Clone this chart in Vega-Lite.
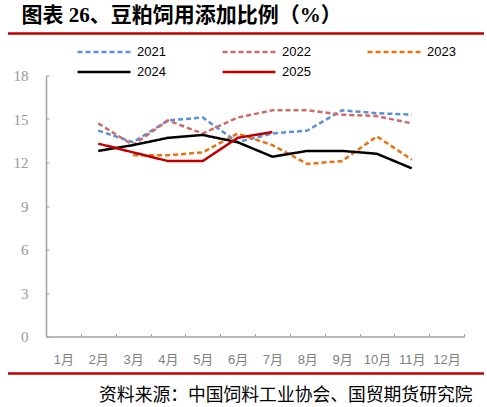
{
  "$schema": "https://vega.github.io/schema/vega-lite/v6.json",
  "width": 476,
  "height": 340,
  "padding": {"left": 6, "top": 4.5, "right": 5, "bottom": 0},
  "background": "white",
  "config": {
    "view": {"stroke": null},
    "font": "Liberation Sans, Noto Sans CJK SC"
  },
  "layer": [
    {
      "data": {
        "values": [
          {"month": "2月", "year": "2021", "value": 14.2},
          {"month": "3月", "year": "2021", "value": 13.4},
          {"month": "4月", "year": "2021", "value": 14.9},
          {"month": "5月", "year": "2021", "value": 15.1},
          {"month": "6月", "year": "2021", "value": 13.4},
          {"month": "7月", "year": "2021", "value": 14.0},
          {"month": "8月", "year": "2021", "value": 14.2},
          {"month": "9月", "year": "2021", "value": 15.6},
          {"month": "10月", "year": "2021", "value": 15.4},
          {"month": "11月", "year": "2021", "value": 15.3},
          {"month": "2月", "year": "2022", "value": 14.7},
          {"month": "3月", "year": "2022", "value": 13.2},
          {"month": "4月", "year": "2022", "value": 14.9},
          {"month": "5月", "year": "2022", "value": 14.0},
          {"month": "6月", "year": "2022", "value": 15.1},
          {"month": "7月", "year": "2022", "value": 15.6},
          {"month": "8月", "year": "2022", "value": 15.6},
          {"month": "9月", "year": "2022", "value": 15.3},
          {"month": "10月", "year": "2022", "value": 15.2},
          {"month": "11月", "year": "2022", "value": 14.7},
          {"month": "3月", "year": "2023", "value": 12.5},
          {"month": "4月", "year": "2023", "value": 12.5},
          {"month": "5月", "year": "2023", "value": 12.7},
          {"month": "6月", "year": "2023", "value": 14.0},
          {"month": "7月", "year": "2023", "value": 13.2},
          {"month": "8月", "year": "2023", "value": 11.9},
          {"month": "9月", "year": "2023", "value": 12.1},
          {"month": "10月", "year": "2023", "value": 13.8},
          {"month": "11月", "year": "2023", "value": 12.2},
          {"month": "2月", "year": "2024", "value": 12.8},
          {"month": "3月", "year": "2024", "value": 13.2},
          {"month": "4月", "year": "2024", "value": 13.7},
          {"month": "5月", "year": "2024", "value": 13.9},
          {"month": "6月", "year": "2024", "value": 13.4},
          {"month": "7月", "year": "2024", "value": 12.4},
          {"month": "8月", "year": "2024", "value": 12.8},
          {"month": "9月", "year": "2024", "value": 12.8},
          {"month": "10月", "year": "2024", "value": 12.6},
          {"month": "11月", "year": "2024", "value": 11.6},
          {"month": "2月", "year": "2025", "value": 13.3},
          {"month": "3月", "year": "2025", "value": 12.7},
          {"month": "4月", "year": "2025", "value": 12.1},
          {"month": "5月", "year": "2025", "value": 12.1},
          {"month": "6月", "year": "2025", "value": 13.7},
          {"month": "7月", "year": "2025", "value": 14.1}
        ]
      },
      "mark": {"type": "line", "strokeWidth": 2.5},
      "encoding": {
        "x": {
          "field": "month",
          "type": "ordinal",
          "bandPosition": 0.5,
          "scale": {
            "type": "band",
            "domain": ["1月", "2月", "3月", "4月", "5月", "6月", "7月", "8月", "9月", "10月", "11月", "12月"],
            "range": [38, 456],
            "paddingInner": 0,
            "paddingOuter": 0
          },
          "axis": {
            "offset": -37,
            "labelAngle": 0,
            "tickBand": "extent",
            "tickSize": -3,
            "tickColor": "#a0a0a0",
            "domainColor": "#a0a0a0",
            "domainWidth": 1.5,
            "labelColor": "#808080",
            "labelFontSize": 13,
            "labelPadding": 20,
            "grid": false,
            "title": "资料来源：中国饲料工业协会、国贸期货研究院",
            "titleFont": "Liberation Serif, Noto Sans CJK SC",
            "titleFontSize": 17.8,
            "titleFontWeight": "normal",
            "titleColor": "#000000",
            "titleAlign": "right",
            "titleBaseline": "middle",
            "titleX": 464,
            "titleY": 59
          }
        },
        "y": {
          "field": "value",
          "type": "quantitative",
          "scale": {"domain": [0, 18], "nice": false, "range": [303, 42]},
          "axis": {
            "offset": -38,
            "values": [0, 3, 6, 9, 12, 15, 18],
            "grid": false,
            "tickSize": -3,
            "tickColor": "#a0a0a0",
            "domainColor": "#a0a0a0",
            "domainWidth": 1.5,
            "labelColor": "#999999",
            "labelFont": "Liberation Serif",
            "labelFontSize": 15,
            "labelPadding": 21,
            "title": "图表 26、豆粕饲用添加比例（%）",
            "titleFont": "Liberation Serif, Noto Sans CJK SC",
            "titleFontSize": 21,
            "titleFontWeight": "bold",
            "titleColor": "#000000",
            "titleAngle": 0,
            "titleAlign": "left",
            "titleBaseline": "middle",
            "titleX": -25,
            "titleY": -18
          }
        },
        "color": {
          "field": "year",
          "type": "nominal",
          "scale": {
            "domain": ["2021", "2022", "2023", "2024", "2025"],
            "range": ["#5B8FD6", "#CD6B6B", "#E6730F", "#000000", "#C00000"]
          },
          "legend": {
            "title": null,
            "orient": "none",
            "legendX": 68,
            "legendY": 10,
            "direction": "horizontal",
            "columns": 3,
            "columnPadding": 55,
            "rowPadding": 3,
            "clipHeight": 17,
            "symbolType": "stroke",
            "symbolSize": 2800,
            "symbolStrokeWidth": 2.5,
            "labelFontSize": 13,
            "labelColor": "#000000",
            "labelOffset": 5
          }
        },
        "strokeDash": {
          "field": "year",
          "type": "nominal",
          "scale": {
            "domain": ["2021", "2022", "2023", "2024", "2025"],
            "range": [[5, 3], [5, 3], [5, 3], [1, 0], [1, 0]]
          },
          "legend": null
        }
      }
    },
    {
      "data": {"values": [{"edge": "top"}]},
      "mark": {"type": "rule", "color": "#C00000", "strokeWidth": 2.5},
      "encoding": {"y": {"datum": 20.9}}
    },
    {
      "data": {"values": [{"edge": "bottom"}]},
      "mark": {"type": "rule", "color": "#C00000", "strokeWidth": 2.5},
      "encoding": {"y": {"datum": -2.55}}
    }
  ]
}
